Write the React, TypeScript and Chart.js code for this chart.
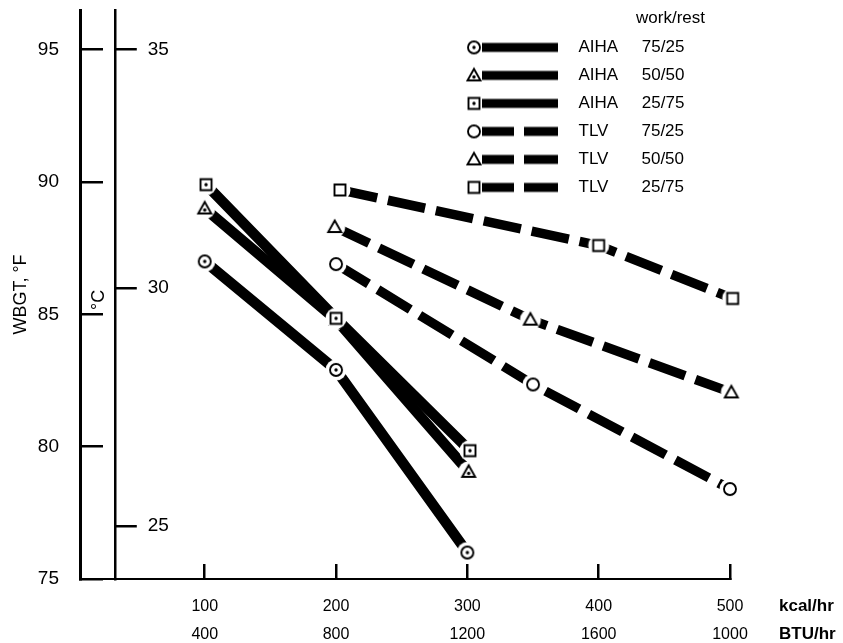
import React, { useEffect, useRef } from 'react';
import { Chart, registerables } from 'chart.js';

Chart.register(...registerables);

const FONT = "'Liberation Sans', Arial, Helvetica, sans-serif";

// Axis ticks / labels
const kcalTicks = [100, 200, 300, 400, 500];
const btuLabels = ['400', '800', '1200', '1600', '1000'];
const fahrenheitTicks = [75, 80, 85, 90, 95];
const celsiusTicks = [25, 30, 35];
const fahrenheitMin = 75;
const fahrenheitMax = 96.5;
const kcalMin = 5;
const kcalMax = 500;
const celsiusAxisAtKcal = 31.5;

// Legend text
const orgNames = ['AIHA', 'AIHA', 'AIHA', 'TLV', 'TLV', 'TLV'];
const workRest = ['75/25', '50/50', '25/75', '75/25', '50/50', '25/75'];

// Series values (kcal/hr, WBGT °F)
const aiha7525Kcal = [100, 200, 300];
const aiha7525Wbgt = [87.0, 82.9, 76.0];
const aiha5050Kcal = [100, 200, 301];
const aiha5050Wbgt = [89.0, 84.8, 79.05];
const aiha2575Kcal = [101, 200, 302];
const aiha2575Wbgt = [89.9, 84.85, 79.85];
const tlv7525Kcal = [200, 350, 500];
const tlv7525Wbgt = [86.9, 82.35, 78.4];
const tlv5050Kcal = [199, 348, 501];
const tlv5050Wbgt = [88.3, 84.8, 82.05];
const tlv2575Kcal = [203, 400, 502];
const tlv2575Wbgt = [89.7, 87.6, 85.6];

type Shape = 'circle' | 'triangle' | 'square';

function traceShape(g: CanvasRenderingContext2D, shape: Shape, cx: number, cy: number) {
  g.beginPath();
  if (shape === 'circle') {
    g.arc(cx, cy, 6, 0, Math.PI * 2);
  } else if (shape === 'triangle') {
    g.moveTo(cx, cy - 6.5);
    g.lineTo(cx + 6.5, cy + 5);
    g.lineTo(cx - 6.5, cy + 5);
    g.closePath();
  } else {
    g.rect(cx - 5.5, cy - 5.5, 11, 11);
  }
}

function drawMarker(g: CanvasRenderingContext2D, shape: Shape, dot: boolean, cx: number, cy: number) {
  g.fillStyle = '#fff';
  g.strokeStyle = '#000';
  g.lineWidth = 1.9;
  traceShape(g, shape, cx, cy);
  g.fill();
  g.stroke();
  if (dot) {
    g.fillStyle = '#000';
    g.beginPath();
    g.arc(cx, shape === 'triangle' ? cy + 1.5 : cy, 1.7, 0, Math.PI * 2);
    g.fill();
  }
}

function makeMarker(shape: Shape, dot: boolean) {
  const c = document.createElement('canvas');
  c.width = 24;
  c.height = 24;
  const g = c.getContext('2d')!;
  g.fillStyle = '#fff';
  g.beginPath();
  g.arc(12, 12, 10.5, 0, Math.PI * 2);
  g.fill();
  drawMarker(g, shape, dot, 12, 12);
  return c;
}

function makeLegendSample(shape: Shape, dot: boolean, dashed: boolean) {
  const c = document.createElement('canvas');
  c.width = 104;
  c.height = 20;
  const g = c.getContext('2d')!;
  g.fillStyle = '#000';
  if (dashed) {
    g.fillRect(16, 5.5, 32, 9);
    g.fillRect(58, 5.5, 34, 9);
  } else {
    g.fillRect(16, 5.5, 76, 9);
  }
  drawMarker(g, shape, dot, 8, 10);
  return c;
}

export default function App() {
  const ref = useRef<HTMLCanvasElement>(null);

  useEffect(() => {
    const canvas = ref.current;
    if (!canvas) return;

    const specs = [
      { xs: aiha7525Kcal, ys: aiha7525Wbgt, shape: 'circle' as Shape, dot: true, dashed: false, order: 2 },
      { xs: aiha5050Kcal, ys: aiha5050Wbgt, shape: 'triangle' as Shape, dot: true, dashed: false, order: 1 },
      { xs: aiha2575Kcal, ys: aiha2575Wbgt, shape: 'square' as Shape, dot: true, dashed: false, order: 0 },
      { xs: tlv7525Kcal, ys: tlv7525Wbgt, shape: 'circle' as Shape, dot: false, dashed: true, order: 3 },
      { xs: tlv5050Kcal, ys: tlv5050Wbgt, shape: 'triangle' as Shape, dot: false, dashed: true, order: 4 },
      { xs: tlv2575Kcal, ys: tlv2575Wbgt, shape: 'square' as Shape, dot: false, dashed: true, order: 5 },
    ];

    const datasets = specs.map((s, i) => ({
      label: orgNames[i] + ' ' + workRest[i],
      data: s.xs.map((x, j) => ({ x, y: s.ys[j] })),
      borderColor: '#000',
      backgroundColor: '#fff',
      borderWidth: s.dashed ? 9.5 : 10.5,
      borderDash: s.dashed ? [38, 11] : [],
      borderCapStyle: 'butt' as const,
      pointStyle: makeMarker(s.shape, s.dot),
      pointRadius: 6,
      pointHoverRadius: 6,
      pointBorderWidth: 0,
      fill: false,
      tension: 0,
      clip: false as const,
      order: s.order,
      xAxisID: 'x',
      yAxisID: 'y',
    }));

    const legendSamples = specs.map((s) => makeLegendSample(s.shape, s.dot, s.dashed));
    const nb = '\u00a0';
    const legendText = (i: number) => {
      const gap = orgNames[i] === 'AIHA' ? 5 : 7;
      return orgNames[i] + nb.repeat(gap) + workRest[i];
    };

    const overlay = {
      id: 'overlay',
      beforeDraw(chart: any) {
        const lg = chart.legend;
        if (lg) {
          lg.left = 455;
          lg.top = 9.5;
          lg.width = 250;
          lg.right = 705;
          lg.height = 220;
          lg.bottom = 229.5;
        }
        const yc = chart.scales.yC;
        const xs = chart.scales.x;
        if (yc && xs) {
          const px = xs.getPixelForValue(celsiusAxisAtKcal);
          yc.right = px;
          yc.left = px - 1;
          yc.width = 1;
        }
      },
      afterDraw(chart: any) {
        const ctx = chart.ctx as CanvasRenderingContext2D;
        const xs = chart.scales.x;
        const ys = chart.scales.y;
        ctx.save();
        ctx.fillStyle = '#000';
        ctx.textBaseline = 'middle';
        ctx.font = `18px ${FONT}`;
        ctx.save();
        ctx.translate(xs.getPixelForValue(celsiusAxisAtKcal) - 16, ys.getPixelForValue(85.55));
        ctx.rotate(-Math.PI / 2);
        ctx.textAlign = 'center';
        ctx.fillText('°C', 0, 0);
        ctx.restore();
        ctx.font = `bold 17px ${FONT}`;
        ctx.textAlign = 'left';
        ctx.fillText('kcal/hr', 779, 606);
        ctx.fillText('BTU/hr', 779, 634);
        ctx.restore();
      },
    };

    const zeroPad = (scale: any) => {
      scale.paddingTop = 0;
      scale.paddingBottom = 0;
      scale.paddingLeft = 0;
      scale.paddingRight = 0;
    };

    const chart = new Chart(canvas, {
      type: 'line',
      data: { datasets: datasets as any },
      options: {
        responsive: false,
        animation: false,
        events: [],
        layout: { padding: { left: 0, top: 10, right: 113, bottom: 0 } },
        scales: {
          x: {
            type: 'linear',
            position: 'bottom',
            min: kcalMin,
            max: kcalMax,
            afterBuildTicks: (s: any) => {
              s.ticks = kcalTicks.map((v) => ({ value: v }));
            },
            afterFit: (s: any) => {
              s.height = 64;
              zeroPad(s);
            },
            ticks: {
              autoSkip: false,
              maxRotation: 0,
              padding: 29,
              color: '#000',
              font: { family: FONT, size: 16, lineHeight: 28 / 16 },
              callback: (_v: any, i: number) => [String(kcalTicks[i]), btuLabels[i]],
            },
            grid: { drawOnChartArea: false, drawTicks: true, tickLength: -15, color: '#000', lineWidth: 2.5 },
            border: { display: true, color: '#000', width: 2 },
          },
          y: {
            type: 'linear',
            position: 'left',
            weight: 1,
            min: fahrenheitMin,
            max: fahrenheitMax,
            afterBuildTicks: (s: any) => {
              s.ticks = fahrenheitTicks.map((v) => ({ value: v }));
            },
            afterFit: (s: any) => {
              s.width = 80;
              zeroPad(s);
            },
            ticks: {
              padding: 44,
              color: '#000',
              font: { family: FONT, size: 19 },
              callback: (v: any) => String(v),
            },
            grid: { drawOnChartArea: false, drawTicks: true, tickLength: -23, color: '#000', lineWidth: 2.5 },
            border: { display: true, color: '#000', width: 3 },
            title: {
              display: true,
              text: 'WBGT, °F',
              color: '#000',
              font: { family: FONT, size: 18 },
              padding: { top: 10, bottom: 0 },
            },
          },
          yC: {
            type: 'linear',
            position: 'left',
            weight: 0,
            min: (fahrenheitMin - 32) / 1.8,
            max: (fahrenheitMax - 32) / 1.8,
            afterBuildTicks: (s: any) => {
              s.ticks = celsiusTicks.map((v) => ({ value: v }));
            },
            afterFit: (s: any) => {
              s.width = 0;
              zeroPad(s);
            },
            ticks: {
              mirror: true,
              padding: 33,
              color: '#000',
              font: { family: FONT, size: 19 },
              callback: (v: any) => String(v),
            },
            grid: { drawOnChartArea: false, drawTicks: true, tickLength: -22, color: '#000', lineWidth: 2.5 },
            border: { display: true, color: '#000', width: 2.5 },
          } as any,
        },
        plugins: {
          tooltip: { enabled: false },
          legend: {
            display: true,
            position: 'chartArea' as any,
            align: 'start',
            title: {
              display: true,
              text: 'work/rest',
              position: 'end',
              color: '#000',
              font: { family: FONT, size: 17 },
              padding: { top: 0, bottom: -2 } as any,
            },
            labels: {
              usePointStyle: true,
              pointStyleWidth: 104,
              padding: 11,
              color: '#000',
              font: { family: FONT, size: 17 },
              generateLabels: () =>
                specs.map((_s, i) => ({
                  text: legendText(i),
                  fillStyle: '#000',
                  strokeStyle: '#000',
                  lineWidth: 0,
                  pointStyle: legendSamples[i] as any,
                  hidden: false,
                  datasetIndex: i,
                  fontColor: '#000',
                })),
            },
          },
        },
      },
      plugins: [overlay],
    });

    return () => chart.destroy();
  }, []);

  return (
    <div style={{ position: 'fixed', left: 0, top: 0, width: 843, height: 643, background: '#fff' }}>
      <canvas ref={ref} width={843} height={643} style={{ display: 'block', width: 843, height: 643 }} />
    </div>
  );
}
